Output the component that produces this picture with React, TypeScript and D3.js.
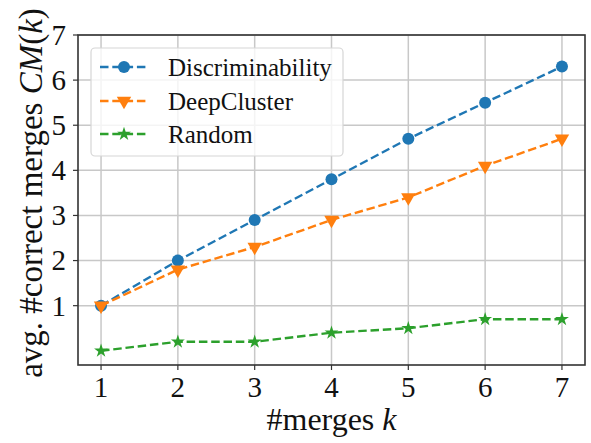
import * as d3 from "d3";

const ks = [1, 2, 3, 4, 5, 6, 7];
const discriminability = [1.0, 2.0, 2.9, 3.8, 4.7, 5.5, 6.3];
const deepCluster = [1.0, 1.8, 2.3, 2.9, 3.4, 4.1, 4.7];
const random = [0.0, 0.2, 0.2, 0.4, 0.5, 0.7, 0.7];
const xTicks = [1, 2, 3, 4, 5, 6, 7];
const yTicks = [1, 2, 3, 4, 5, 6, 7];

const W = 591;
const H = 443;
const margin = { top: 35, right: 6, bottom: 78, left: 78 };
const FONT = "Liberation Serif";

type SeriesDef = { name: string; values: number[]; color: string; marker: "circle" | "tri" | "star" };

const series: SeriesDef[] = [
  { name: "Discriminability", values: discriminability, color: "#1f77b4", marker: "circle" },
  { name: "DeepCluster", values: deepCluster, color: "#ff7f0e", marker: "tri" },
  { name: "Random", values: random, color: "#2ca02c", marker: "star" },
];

function Marker({ kind, x, y, color }: { kind: string; x: number; y: number; color: string }) {
  if (kind === "circle") return <circle cx={x} cy={y} r={6} fill={color} />;
  if (kind === "tri") {
    const d = d3.symbol().type(d3.symbolTriangle).size(90)()!;
    return <path d={d} transform={`translate(${x},${y}) rotate(180)`} fill={color} />;
  }
  const d = d3.symbol().type(d3.symbolStar).size(60)()!;
  return <path d={d} transform={`translate(${x},${y})`} fill={color} />;
}

export default function App() {
  const x = d3.scaleLinear().domain([0.7, 7.3]).range([margin.left, W - margin.right]);
  const y = d3.scaleLinear().domain([-0.315, 7]).range([H - margin.bottom, margin.top]);

  const line = d3
    .line<number>()
    .x((_, i) => x(ks[i]))
    .y((d) => y(d));

  const x0 = x.range()[0];
  const x1 = x.range()[1];
  const y0 = y.range()[0];
  const y1 = y.range()[1];

  const legendX = 91;
  const legendY = 48;
  const rowY = [67, 101, 134];
  const txt = { fontFamily: FONT, fill: "#111" };

  return (
    <svg width={W} height={H} style={{ position: "absolute", left: 0, top: 0, background: "#fff" }}>
      {/* grid */}
      <g stroke="#c8c8c8" strokeWidth={1.5}>
        {xTicks.map((t) => (
          <line key={"gx" + t} x1={x(t)} x2={x(t)} y1={y0} y2={y1} />
        ))}
        {yTicks.map((t) => (
          <line key={"gy" + t} x1={x0} x2={x1} y1={y(t)} y2={y(t)} />
        ))}
      </g>

      {/* series */}
      {series.map((s) => (
        <g key={s.name}>
          <path d={line(s.values)!} fill="none" stroke={s.color} strokeWidth={2.4} strokeDasharray="8.5 3.8" />
          {s.values.map((v, i) => (
            <Marker key={i} kind={s.marker} x={x(ks[i])} y={y(v)} color={s.color} />
          ))}
        </g>
      ))}

      {/* frame */}
      <rect x={x0} y={y1} width={x1 - x0} height={y0 - y1} fill="none" stroke="#333" strokeWidth={1.6} />

      {/* x ticks */}
      {xTicks.map((t) => (
        <g key={"xt" + t}>
          <line x1={x(t)} x2={x(t)} y1={y0} y2={y0 + 5} stroke="#333" strokeWidth={1.2} />
          <text x={x(t)} y={397} textAnchor="middle" fontSize={29} style={txt}>
            {t}
          </text>
        </g>
      ))}

      {/* y ticks */}
      {yTicks.map((t) => (
        <g key={"yt" + t}>
          <line x1={x0 - 5} x2={x0} y1={y(t)} y2={y(t)} stroke="#333" strokeWidth={1.2} />
          <text x={66} y={y(t)} dy="0.34em" textAnchor="end" fontSize={29} style={txt}>
            {t}
          </text>
        </g>
      ))}

      {/* axis labels */}
      <text x={(x0 + x1) / 2} y={430} textAnchor="middle" fontSize={32} style={txt}>
        #merges <tspan fontStyle="italic">k</tspan>
      </text>
      <text
        transform={`translate(42,193) rotate(-90)`}
        textAnchor="middle"
        fontSize={33}
        style={txt}
      >
        avg. #correct merges <tspan fontStyle="italic">CM</tspan>(<tspan fontStyle="italic">k</tspan>)
      </text>

      {/* legend */}
      <rect
        x={legendX}
        y={legendY}
        width={252}
        height={108}
        rx={4}
        fill="#fff"
        fillOpacity={0.8}
        stroke="#d6d6d6"
        strokeWidth={1.2}
      />
      {series.map((s, i) => (
        <g key={"lg" + s.name}>
          <line
            x1={100}
            x2={148}
            y1={rowY[i]}
            y2={rowY[i]}
            stroke={s.color}
            strokeWidth={2.4}
            strokeDasharray="8.5 3.8"
          />
          <Marker kind={s.marker} x={124} y={rowY[i]} color={s.color} />
          <text x={168} y={rowY[i]} dy="0.35em" fontSize={25} style={txt}>
            {s.name}
          </text>
        </g>
      ))}
    </svg>
  );
}
